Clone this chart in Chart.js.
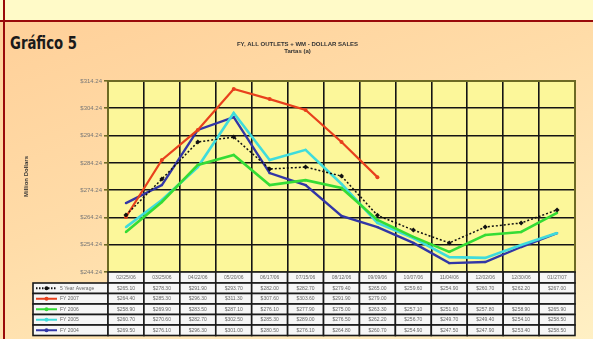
<!DOCTYPE html>
<html>
<head>
<meta charset="utf-8">
<script src="https://cdn.jsdelivr.net/npm/chart.js@4"></script>
<style>
  html, body { margin: 0; padding: 0; }
  body { width: 593px; height: 339px; position: relative; overflow: hidden; }
  #page {
    position: absolute; left: 0; top: 0; width: 593px; height: 339px;
    background: linear-gradient(160deg, #FFCF98 0%, #FFDCA8 45%, #FFF0C4 100%);
  }
  #band {
    position: absolute; left: 0; top: 0; width: 593px; height: 20px;
    background: #FFFAC8; border-bottom: 2px solid #990A0A;
  }
  #edge {
    position: absolute; left: 3px; top: 0; width: 2px; height: 339px; background: #990A0A;
  }
  #label {
    position: absolute; left: 10px; top: 33px;
    font-family: "DejaVu Sans", "Liberation Sans", sans-serif;
    font-weight: bold; font-size: 17px; color: #1a1a1a;
    transform: scaleX(0.78); transform-origin: left top; white-space: nowrap;
  }
  canvas { position: absolute; left: 0; top: 0; }
</style>
</head>
<body>
<div id="page"></div>
<div id="band"></div>
<div id="edge"></div>
<div id="label">Gráfico 5</div>
<canvas id="chart" width="593" height="339"></canvas>
<script>
// Four-week periods (table header)
const periods = ["02/25/06", "03/25/06", "04/22/06", "05/20/06", "06/17/06", "07/15/06", "08/12/06",
                 "09/09/06", "10/07/06", "11/04/06", "12/02/06", "12/30/06", "01/27/07"];

// Series names
const seriesNames = ["5 Year Average", "FY 2007", "FY 2006", "FY 2005", "FY 2004"];

// Dollar sales per period (millions)
const avgFiveYear = [265.1, 278.3, 291.9, 293.7, 282.0, 282.7, 279.4, 265.0, 259.6, 254.9, 260.7, 262.2, 267.0];
const fy2007 = [264.4, 285.3, 296.3, 311.3, 307.6, 303.6, 291.9, 279.0, null, null, null, null, null];
const fy2006 = [258.9, 269.9, 283.5, 287.1, 276.1, 277.9, 275.0, 263.3, 257.1, 251.6, 257.8, 258.9, 265.9];
const fy2005 = [260.7, 270.6, 282.7, 302.5, 285.3, 289.0, 276.5, 262.2, 256.7, 249.7, 249.4, 254.1, 258.5];
const fy2004 = [269.5, 276.1, 296.3, 301.0, 280.5, 276.1, 264.8, 260.7, 254.9, 247.5, 247.9, 253.4, 258.5];

// Value axis ticks
const yTicks = [244.24, 254.24, 264.24, 274.24, 284.24, 294.24, 304.24, 314.24];

const seriesValues = [avgFiveYear, fy2007, fy2006, fy2005, fy2004];
const seriesColors = ["#111111", "#E8401C", "#35DC35", "#3FDCDC", "#3236A6"];

const FONT = '"Liberation Sans", Arial, sans-serif';

// Yellow plot area with olive frame
const plotArea = {
  id: 'plotArea',
  beforeDraw(chart) {
    const { ctx, chartArea: a } = chart;
    ctx.save();
    ctx.fillStyle = '#FCF79A';
    ctx.fillRect(a.left, a.top, a.right - a.left, a.bottom - a.top);
    ctx.restore();
  },
  afterDatasetsDraw(chart) {
    const { ctx, chartArea: a } = chart;
    ctx.save();
    ctx.strokeStyle = '#6d6a24';
    ctx.lineWidth = 2;
    ctx.strokeRect(a.left, a.top, a.right - a.left, a.bottom - a.top);
    ctx.restore();
  }
};

// Data table under the plot, columns aligned to the category scale
const dataTable = {
  id: 'dataTable',
  afterDraw(chart) {
    const { ctx } = chart;
    const x = chart.scales.x;
    const colW = x.getPixelForValue(1) - x.getPixelForValue(0);
    const top = chart.chartArea.bottom;
    const headH = 11;
    const rowH = 10.5;
    const legendLeft = 33;
    const left = chart.chartArea.left;
    ctx.save();
    ctx.font = '5px ' + FONT;
    ctx.textAlign = 'center';
    ctx.textBaseline = 'middle';
    ctx.lineWidth = 1.6;
    ctx.strokeStyle = '#1a1a1a';

    // header row with period labels
    periods.forEach((p, i) => {
      const cx = x.getPixelForValue(i);
      ctx.fillStyle = '#F6F6F6';
      ctx.fillRect(cx - colW / 2, top, colW, headH);
      ctx.strokeRect(cx - colW / 2, top, colW, headH);
      ctx.fillStyle = '#666';
      ctx.fillText(p, cx, top + headH / 2);
    });

    // one row per series
    seriesValues.forEach((vals, r) => {
      const y0 = top + headH + r * rowH;
      // legend cell
      ctx.fillStyle = '#F6F6F6';
      ctx.fillRect(legendLeft, y0, left - legendLeft, rowH);
      ctx.strokeRect(legendLeft, y0, left - legendLeft, rowH);
      ctx.strokeStyle = seriesColors[r];
      ctx.lineWidth = 2;
      if (r === 0) ctx.setLineDash([1.5, 1.5]);
      ctx.beginPath();
      ctx.moveTo(legendLeft + 3, y0 + rowH / 2);
      ctx.lineTo(legendLeft + 24, y0 + rowH / 2);
      ctx.stroke();
      ctx.setLineDash([]);
      ctx.fillStyle = seriesColors[r];
      ctx.beginPath();
      ctx.arc(legendLeft + 13.5, y0 + rowH / 2, 2, 0, Math.PI * 2);
      ctx.fill();
      ctx.fillStyle = '#666';
      ctx.textAlign = 'left';
      ctx.fillText(seriesNames[r], legendLeft + 27, y0 + rowH / 2);
      ctx.textAlign = 'center';
      ctx.strokeStyle = '#1a1a1a';
      ctx.lineWidth = 1.6;
      // value cells
      vals.forEach((v, i) => {
        const cx = x.getPixelForValue(i);
        ctx.fillStyle = '#F6F6F6';
        ctx.fillRect(cx - colW / 2, y0, colW, rowH);
        ctx.strokeRect(cx - colW / 2, y0, colW, rowH);
        if (v !== null) {
          ctx.fillStyle = '#666';
          ctx.fillText('$' + v.toFixed(2), cx, y0 + rowH / 2);
        }
      });
    });
    ctx.restore();
  }
};

const styles = [
  { borderWidth: 1.5, borderDash: [2, 2], pointStyle: 'rectRot', pointRadius: 2.5 },
  { borderWidth: 2.2, pointStyle: 'circle', pointRadius: 2 },
  { borderWidth: 2.6, pointStyle: 'circle', pointRadius: 1.2 },
  { borderWidth: 2.6, pointStyle: 'circle', pointRadius: 1.2 },
  { borderWidth: 2.4, pointStyle: 'rect', pointRadius: 1.5 }
];

new Chart(document.getElementById('chart'), {
  type: 'line',
  data: {
    labels: periods,
    datasets: seriesValues.map((vals, i) => Object.assign({
      label: seriesNames[i],
      data: vals,
      borderColor: seriesColors[i],
      backgroundColor: seriesColors[i],
      pointBorderWidth: 0,
      tension: 0,
      spanGaps: false,
      fill: false
    }, styles[i]))
  },
  options: {
    responsive: false,
    animation: false,
    devicePixelRatio: 1,
    layout: { padding: { left: 20, right: 18, top: 0, bottom: 67 } },
    plugins: {
      legend: { display: false },
      tooltip: { enabled: false },
      title: {
        display: true,
        text: ['FY, ALL OUTLETS + WM - DOLLAR SALES', 'Tartas (a)'],
        font: { family: FONT, size: 6, weight: 'bold', lineHeight: 1.2 },
        color: '#333',
        padding: { top: 41, bottom: 25.6 }
      }
    },
    scales: {
      x: {
        offset: true,
        ticks: { display: false },
        grid: { offset: true, color: '#141414', lineWidth: 1.6, drawTicks: false },
        border: { display: false },
        afterFit(s) { s.height = 0; }
      },
      y: {
        min: yTicks[0],
        max: yTicks[yTicks.length - 1],
        afterBuildTicks(s) { s.ticks = yTicks.map(v => ({ value: v })); },
        afterFit(s) { s.width = 88; },
        ticks: {
          font: { family: FONT, size: 6 },
          color: '#777',
          padding: 2,
          callback: v => '$' + Number(v).toFixed(2)
        },
        grid: { color: '#141414', lineWidth: 1.6, tickLength: 4, tickColor: '#6d6a24' },
        border: { display: false },
        title: {
          display: true,
          text: 'Million Dollars',
          font: { family: FONT, size: 6, weight: 'bold' },
          color: '#333',
          padding: { top: 3, bottom: 0 }
        }
      }
    }
  },
  plugins: [plotArea, dataTable]
});
</script>
</body>
</html>
